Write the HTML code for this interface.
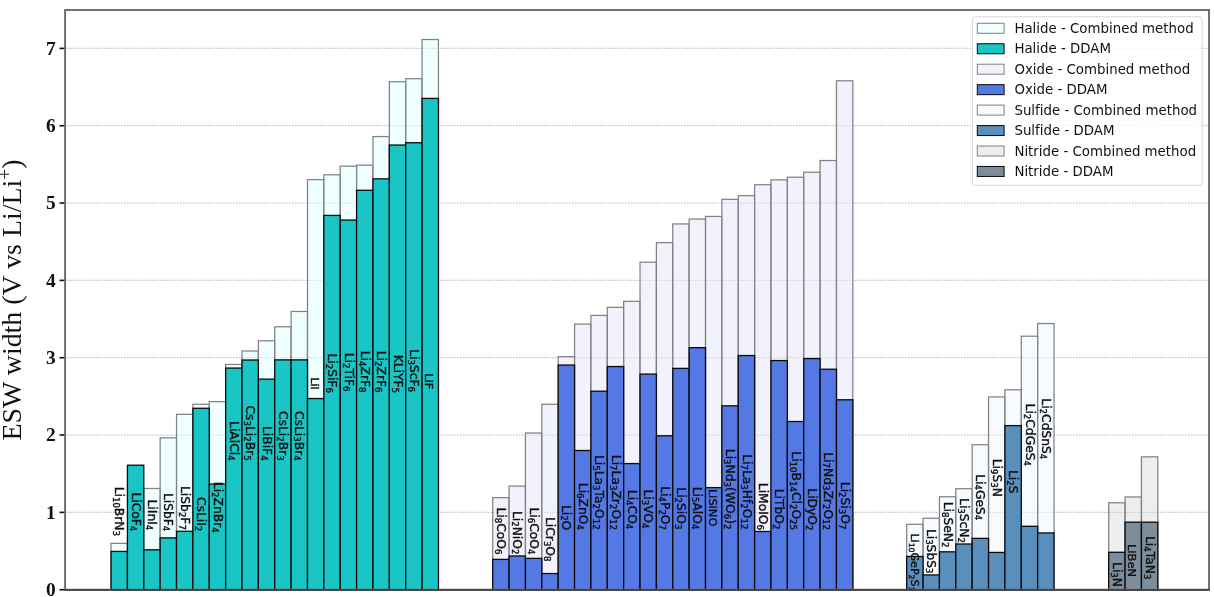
<!DOCTYPE html>
<html><head><meta charset="utf-8"><title>ESW width</title>
<style>
html,body{margin:0;padding:0;background:#fff}
svg{display:block}
text{font-variant-ligatures:none;font-kerning:normal}
.lab{font-family:"DejaVu Sans","Liberation Sans",sans-serif;font-size:12.3px;fill:#111;stroke:#111;stroke-width:0.4px;text-anchor:end}
.leg{font-family:"DejaVu Sans","Liberation Sans",sans-serif;font-size:13.9px;fill:#111}
.tick{font-family:"Liberation Serif","Times New Roman",serif;font-weight:bold;font-size:19.4px;fill:#111;text-anchor:end}
.yl{font-family:"Liberation Serif","Times New Roman",serif;font-size:27.9px;fill:#111;text-anchor:middle}
</style></head><body>
<svg width="1214" height="597" viewBox="0 0 1214 597">
<rect width="1214" height="597" fill="#fff"/>

<g stroke="#c2c2c2" stroke-width="1.3" stroke-dasharray="1.5 1.3" fill="none">
<line x1="65.1" x2="1209.0" y1="512.37" y2="512.37"/>
<line x1="65.1" x2="1209.0" y1="435.04" y2="435.04"/>
<line x1="65.1" x2="1209.0" y1="357.71" y2="357.71"/>
<line x1="65.1" x2="1209.0" y1="280.38" y2="280.38"/>
<line x1="65.1" x2="1209.0" y1="203.05" y2="203.05"/>
<line x1="65.1" x2="1209.0" y1="125.72" y2="125.72"/>
<line x1="65.1" x2="1209.0" y1="48.39" y2="48.39"/>
</g>
<g>
<rect x="111.05" y="543.38" width="16.37" height="46.32" fill="rgba(224,255,255,0.5)" stroke="#828282" stroke-width="1.25"/>
<rect x="143.79" y="488.48" width="16.37" height="101.22" fill="rgba(224,255,255,0.5)" stroke="#828282" stroke-width="1.25"/>
<rect x="160.16" y="437.82" width="16.37" height="151.88" fill="rgba(224,255,255,0.5)" stroke="#828282" stroke-width="1.25"/>
<rect x="176.53" y="414.32" width="16.37" height="175.38" fill="rgba(224,255,255,0.5)" stroke="#828282" stroke-width="1.25"/>
<rect x="192.90" y="404.26" width="16.37" height="185.44" fill="rgba(224,255,255,0.5)" stroke="#828282" stroke-width="1.25"/>
<rect x="209.27" y="401.63" width="16.37" height="188.07" fill="rgba(224,255,255,0.5)" stroke="#828282" stroke-width="1.25"/>
<rect x="225.64" y="364.44" width="16.37" height="225.26" fill="rgba(224,255,255,0.5)" stroke="#828282" stroke-width="1.25"/>
<rect x="242.01" y="350.98" width="16.37" height="238.72" fill="rgba(224,255,255,0.5)" stroke="#828282" stroke-width="1.25"/>
<rect x="258.38" y="340.77" width="16.37" height="248.93" fill="rgba(224,255,255,0.5)" stroke="#828282" stroke-width="1.25"/>
<rect x="274.75" y="326.78" width="16.37" height="262.92" fill="rgba(224,255,255,0.5)" stroke="#828282" stroke-width="1.25"/>
<rect x="291.12" y="311.47" width="16.37" height="278.23" fill="rgba(224,255,255,0.5)" stroke="#828282" stroke-width="1.25"/>
<rect x="307.49" y="179.62" width="16.37" height="410.08" fill="rgba(224,255,255,0.5)" stroke="#828282" stroke-width="1.25"/>
<rect x="323.86" y="174.82" width="16.37" height="414.88" fill="rgba(224,255,255,0.5)" stroke="#828282" stroke-width="1.25"/>
<rect x="340.23" y="166.16" width="16.37" height="423.54" fill="rgba(224,255,255,0.5)" stroke="#828282" stroke-width="1.25"/>
<rect x="356.60" y="165.16" width="16.37" height="424.54" fill="rgba(224,255,255,0.5)" stroke="#828282" stroke-width="1.25"/>
<rect x="372.97" y="136.55" width="16.37" height="453.15" fill="rgba(224,255,255,0.5)" stroke="#828282" stroke-width="1.25"/>
<rect x="389.34" y="81.72" width="16.37" height="507.98" fill="rgba(224,255,255,0.5)" stroke="#828282" stroke-width="1.25"/>
<rect x="405.71" y="78.70" width="16.37" height="511.00" fill="rgba(224,255,255,0.5)" stroke="#828282" stroke-width="1.25"/>
<rect x="422.08" y="39.50" width="16.37" height="550.20" fill="rgba(224,255,255,0.5)" stroke="#828282" stroke-width="1.25"/>
<rect x="111.05" y="551.42" width="16.37" height="38.28" fill="#19c5c5" stroke="#0a0a0a" stroke-width="1.3"/>
<rect x="127.42" y="465.20" width="16.37" height="124.50" fill="#19c5c5" stroke="#0a0a0a" stroke-width="1.3"/>
<rect x="143.79" y="549.80" width="16.37" height="39.90" fill="#19c5c5" stroke="#0a0a0a" stroke-width="1.3"/>
<rect x="160.16" y="537.89" width="16.37" height="51.81" fill="#19c5c5" stroke="#0a0a0a" stroke-width="1.3"/>
<rect x="176.53" y="531.32" width="16.37" height="58.38" fill="#19c5c5" stroke="#0a0a0a" stroke-width="1.3"/>
<rect x="192.90" y="408.28" width="16.37" height="181.42" fill="#19c5c5" stroke="#0a0a0a" stroke-width="1.3"/>
<rect x="209.27" y="484.07" width="16.37" height="105.63" fill="#19c5c5" stroke="#0a0a0a" stroke-width="1.3"/>
<rect x="225.64" y="368.07" width="16.37" height="221.63" fill="#19c5c5" stroke="#0a0a0a" stroke-width="1.3"/>
<rect x="242.01" y="360.03" width="16.37" height="229.67" fill="#19c5c5" stroke="#0a0a0a" stroke-width="1.3"/>
<rect x="258.38" y="379.13" width="16.37" height="210.57" fill="#19c5c5" stroke="#0a0a0a" stroke-width="1.3"/>
<rect x="274.75" y="359.88" width="16.37" height="229.82" fill="#19c5c5" stroke="#0a0a0a" stroke-width="1.3"/>
<rect x="291.12" y="359.88" width="16.37" height="229.82" fill="#19c5c5" stroke="#0a0a0a" stroke-width="1.3"/>
<rect x="307.49" y="398.54" width="16.37" height="191.16" fill="#19c5c5" stroke="#0a0a0a" stroke-width="1.3"/>
<rect x="323.86" y="215.42" width="16.37" height="374.28" fill="#19c5c5" stroke="#0a0a0a" stroke-width="1.3"/>
<rect x="340.23" y="220.06" width="16.37" height="369.64" fill="#19c5c5" stroke="#0a0a0a" stroke-width="1.3"/>
<rect x="356.60" y="190.29" width="16.37" height="399.41" fill="#19c5c5" stroke="#0a0a0a" stroke-width="1.3"/>
<rect x="372.97" y="178.85" width="16.37" height="410.85" fill="#19c5c5" stroke="#0a0a0a" stroke-width="1.3"/>
<rect x="389.34" y="145.05" width="16.37" height="444.65" fill="#19c5c5" stroke="#0a0a0a" stroke-width="1.3"/>
<rect x="405.71" y="142.73" width="16.37" height="446.97" fill="#19c5c5" stroke="#0a0a0a" stroke-width="1.3"/>
<rect x="422.08" y="98.42" width="16.37" height="491.28" fill="#19c5c5" stroke="#0a0a0a" stroke-width="1.3"/>
</g>
<g>
<rect x="492.70" y="497.68" width="16.37" height="92.02" fill="rgba(230,230,250,0.5)" stroke="#828282" stroke-width="1.25"/>
<rect x="509.07" y="486.08" width="16.37" height="103.62" fill="rgba(230,230,250,0.5)" stroke="#828282" stroke-width="1.25"/>
<rect x="525.44" y="433.03" width="16.37" height="156.67" fill="rgba(230,230,250,0.5)" stroke="#828282" stroke-width="1.25"/>
<rect x="541.81" y="404.26" width="16.37" height="185.44" fill="rgba(230,230,250,0.5)" stroke="#828282" stroke-width="1.25"/>
<rect x="558.18" y="356.63" width="16.37" height="233.07" fill="rgba(230,230,250,0.5)" stroke="#828282" stroke-width="1.25"/>
<rect x="574.55" y="324.07" width="16.37" height="265.63" fill="rgba(230,230,250,0.5)" stroke="#828282" stroke-width="1.25"/>
<rect x="590.92" y="315.41" width="16.37" height="274.29" fill="rgba(230,230,250,0.5)" stroke="#828282" stroke-width="1.25"/>
<rect x="607.29" y="307.37" width="16.37" height="282.33" fill="rgba(230,230,250,0.5)" stroke="#828282" stroke-width="1.25"/>
<rect x="623.66" y="301.34" width="16.37" height="288.36" fill="rgba(230,230,250,0.5)" stroke="#828282" stroke-width="1.25"/>
<rect x="640.03" y="262.13" width="16.37" height="327.57" fill="rgba(230,230,250,0.5)" stroke="#828282" stroke-width="1.25"/>
<rect x="656.40" y="242.64" width="16.37" height="347.06" fill="rgba(230,230,250,0.5)" stroke="#828282" stroke-width="1.25"/>
<rect x="672.77" y="223.93" width="16.37" height="365.77" fill="rgba(230,230,250,0.5)" stroke="#828282" stroke-width="1.25"/>
<rect x="689.14" y="219.06" width="16.37" height="370.64" fill="rgba(230,230,250,0.5)" stroke="#828282" stroke-width="1.25"/>
<rect x="705.51" y="216.43" width="16.37" height="373.27" fill="rgba(230,230,250,0.5)" stroke="#828282" stroke-width="1.25"/>
<rect x="721.88" y="199.34" width="16.37" height="390.36" fill="rgba(230,230,250,0.5)" stroke="#828282" stroke-width="1.25"/>
<rect x="738.25" y="195.70" width="16.37" height="394.00" fill="rgba(230,230,250,0.5)" stroke="#828282" stroke-width="1.25"/>
<rect x="754.62" y="184.72" width="16.37" height="404.98" fill="rgba(230,230,250,0.5)" stroke="#828282" stroke-width="1.25"/>
<rect x="770.99" y="179.85" width="16.37" height="409.85" fill="rgba(230,230,250,0.5)" stroke="#828282" stroke-width="1.25"/>
<rect x="787.36" y="177.22" width="16.37" height="412.48" fill="rgba(230,230,250,0.5)" stroke="#828282" stroke-width="1.25"/>
<rect x="803.73" y="172.20" width="16.37" height="417.50" fill="rgba(230,230,250,0.5)" stroke="#828282" stroke-width="1.25"/>
<rect x="820.10" y="160.52" width="16.37" height="429.18" fill="rgba(230,230,250,0.5)" stroke="#828282" stroke-width="1.25"/>
<rect x="836.47" y="80.79" width="16.37" height="508.91" fill="rgba(230,230,250,0.5)" stroke="#828282" stroke-width="1.25"/>
<rect x="492.70" y="559.39" width="16.37" height="30.31" fill="#5478e4" stroke="#0a0a0a" stroke-width="1.3"/>
<rect x="509.07" y="555.98" width="16.37" height="33.72" fill="#5478e4" stroke="#0a0a0a" stroke-width="1.3"/>
<rect x="525.44" y="558.38" width="16.37" height="31.32" fill="#5478e4" stroke="#0a0a0a" stroke-width="1.3"/>
<rect x="541.81" y="573.54" width="16.37" height="16.16" fill="#5478e4" stroke="#0a0a0a" stroke-width="1.3"/>
<rect x="558.18" y="365.06" width="16.37" height="224.64" fill="#5478e4" stroke="#0a0a0a" stroke-width="1.3"/>
<rect x="574.55" y="450.51" width="16.37" height="139.19" fill="#5478e4" stroke="#0a0a0a" stroke-width="1.3"/>
<rect x="590.92" y="391.19" width="16.37" height="198.51" fill="#5478e4" stroke="#0a0a0a" stroke-width="1.3"/>
<rect x="607.29" y="366.53" width="16.37" height="223.17" fill="#5478e4" stroke="#0a0a0a" stroke-width="1.3"/>
<rect x="623.66" y="463.57" width="16.37" height="126.13" fill="#5478e4" stroke="#0a0a0a" stroke-width="1.3"/>
<rect x="640.03" y="374.10" width="16.37" height="215.60" fill="#5478e4" stroke="#0a0a0a" stroke-width="1.3"/>
<rect x="656.40" y="435.81" width="16.37" height="153.89" fill="#5478e4" stroke="#0a0a0a" stroke-width="1.3"/>
<rect x="672.77" y="368.38" width="16.37" height="221.32" fill="#5478e4" stroke="#0a0a0a" stroke-width="1.3"/>
<rect x="689.14" y="347.66" width="16.37" height="242.04" fill="#5478e4" stroke="#0a0a0a" stroke-width="1.3"/>
<rect x="705.51" y="487.62" width="16.37" height="102.08" fill="#5478e4" stroke="#0a0a0a" stroke-width="1.3"/>
<rect x="721.88" y="405.81" width="16.37" height="183.89" fill="#5478e4" stroke="#0a0a0a" stroke-width="1.3"/>
<rect x="738.25" y="355.54" width="16.37" height="234.16" fill="#5478e4" stroke="#0a0a0a" stroke-width="1.3"/>
<rect x="754.62" y="531.47" width="16.37" height="58.23" fill="#5478e4" stroke="#0a0a0a" stroke-width="1.3"/>
<rect x="770.99" y="360.57" width="16.37" height="229.13" fill="#5478e4" stroke="#0a0a0a" stroke-width="1.3"/>
<rect x="787.36" y="421.51" width="16.37" height="168.19" fill="#5478e4" stroke="#0a0a0a" stroke-width="1.3"/>
<rect x="803.73" y="358.56" width="16.37" height="231.14" fill="#5478e4" stroke="#0a0a0a" stroke-width="1.3"/>
<rect x="820.10" y="369.23" width="16.37" height="220.47" fill="#5478e4" stroke="#0a0a0a" stroke-width="1.3"/>
<rect x="836.47" y="399.78" width="16.37" height="189.92" fill="#5478e4" stroke="#0a0a0a" stroke-width="1.3"/>
</g>
<g>
<rect x="906.70" y="524.28" width="16.37" height="65.42" fill="rgba(240,248,255,0.5)" stroke="#828282" stroke-width="1.25"/>
<rect x="923.07" y="518.25" width="16.37" height="71.45" fill="rgba(240,248,255,0.5)" stroke="#828282" stroke-width="1.25"/>
<rect x="939.44" y="496.75" width="16.37" height="92.95" fill="rgba(240,248,255,0.5)" stroke="#828282" stroke-width="1.25"/>
<rect x="955.81" y="488.71" width="16.37" height="100.99" fill="rgba(240,248,255,0.5)" stroke="#828282" stroke-width="1.25"/>
<rect x="972.18" y="444.71" width="16.37" height="144.99" fill="rgba(240,248,255,0.5)" stroke="#828282" stroke-width="1.25"/>
<rect x="988.55" y="396.92" width="16.37" height="192.78" fill="rgba(240,248,255,0.5)" stroke="#828282" stroke-width="1.25"/>
<rect x="1004.92" y="389.80" width="16.37" height="199.90" fill="rgba(240,248,255,0.5)" stroke="#828282" stroke-width="1.25"/>
<rect x="1021.29" y="336.21" width="16.37" height="253.49" fill="rgba(240,248,255,0.5)" stroke="#828282" stroke-width="1.25"/>
<rect x="1037.66" y="323.53" width="16.37" height="266.17" fill="rgba(240,248,255,0.5)" stroke="#828282" stroke-width="1.25"/>
<rect x="906.70" y="556.45" width="16.37" height="33.25" fill="#598fbc" stroke="#0a0a0a" stroke-width="1.3"/>
<rect x="923.07" y="574.93" width="16.37" height="14.77" fill="#598fbc" stroke="#0a0a0a" stroke-width="1.3"/>
<rect x="939.44" y="551.81" width="16.37" height="37.89" fill="#598fbc" stroke="#0a0a0a" stroke-width="1.3"/>
<rect x="955.81" y="544.00" width="16.37" height="45.70" fill="#598fbc" stroke="#0a0a0a" stroke-width="1.3"/>
<rect x="972.18" y="538.35" width="16.37" height="51.35" fill="#598fbc" stroke="#0a0a0a" stroke-width="1.3"/>
<rect x="988.55" y="552.43" width="16.37" height="37.27" fill="#598fbc" stroke="#0a0a0a" stroke-width="1.3"/>
<rect x="1004.92" y="425.61" width="16.37" height="164.09" fill="#598fbc" stroke="#0a0a0a" stroke-width="1.3"/>
<rect x="1021.29" y="526.29" width="16.37" height="63.41" fill="#598fbc" stroke="#0a0a0a" stroke-width="1.3"/>
<rect x="1037.66" y="532.94" width="16.37" height="56.76" fill="#598fbc" stroke="#0a0a0a" stroke-width="1.3"/>
</g>
<g>
<rect x="1108.70" y="502.78" width="16.37" height="86.92" fill="rgba(211,211,211,0.38)" stroke="#828282" stroke-width="1.25"/>
<rect x="1125.07" y="496.98" width="16.37" height="92.72" fill="rgba(211,211,211,0.38)" stroke="#828282" stroke-width="1.25"/>
<rect x="1141.44" y="456.85" width="16.37" height="132.85" fill="rgba(211,211,211,0.38)" stroke="#828282" stroke-width="1.25"/>
<rect x="1108.70" y="552.27" width="16.37" height="37.43" fill="#7e8d9b" stroke="#0a0a0a" stroke-width="1.3"/>
<rect x="1125.07" y="522.19" width="16.37" height="67.51" fill="#7e8d9b" stroke="#0a0a0a" stroke-width="1.3"/>
<rect x="1141.44" y="522.19" width="16.37" height="67.51" fill="#7e8d9b" stroke="#0a0a0a" stroke-width="1.3"/>
</g>
<clipPath id="ax"><rect x="65.1" y="10.0" width="1143.90" height="579.70"/></clipPath>
<g class="lab" clip-path="url(#ax)">
<text transform="translate(115.33,536.0) rotate(90) scale(1,0.96)">Li<tspan font-size="8.61" dy="1.9">10</tspan><tspan dy="-1.9">BrN</tspan><tspan font-size="8.61" dy="1.9">3</tspan></text>
<text transform="translate(131.70,531.3) rotate(90) scale(1,0.96)">LiCoF<tspan font-size="8.61" dy="1.9">4</tspan></text>
<text transform="translate(148.07,530.3) rotate(90) scale(1,0.96)">LiInI<tspan font-size="8.61" dy="1.9">4</tspan></text>
<text transform="translate(164.44,531.3) rotate(90) scale(1,0.96)">LiSbF<tspan font-size="8.61" dy="1.9">4</tspan></text>
<text transform="translate(180.81,529.9) rotate(90) scale(1,0.96)">LiSb<tspan font-size="8.61" dy="1.9">2</tspan><tspan dy="-1.9">F</tspan><tspan font-size="8.61" dy="1.9">7</tspan></text>
<text transform="translate(197.19,531.3) rotate(90) scale(1,0.96)">CsLiI<tspan font-size="8.61" dy="1.9">2</tspan></text>
<text transform="translate(213.55,532.7) rotate(90) scale(1,0.96)">Li<tspan font-size="8.61" dy="1.9">2</tspan><tspan dy="-1.9">ZnBr</tspan><tspan font-size="8.61" dy="1.9">4</tspan></text>
<text transform="translate(229.92,460.6) rotate(90) scale(1,0.96)">LiAlCl<tspan font-size="8.61" dy="1.9">4</tspan></text>
<text transform="translate(246.29,460.6) rotate(90) scale(1,0.96)">Cs<tspan font-size="8.61" dy="1.9">3</tspan><tspan dy="-1.9">Li</tspan><tspan font-size="8.61" dy="1.9">2</tspan><tspan dy="-1.9">Br</tspan><tspan font-size="8.61" dy="1.9">5</tspan></text>
<text transform="translate(262.67,460.6) rotate(90) scale(1,0.96)">LiBiF<tspan font-size="8.61" dy="1.9">4</tspan></text>
<text transform="translate(279.04,460.6) rotate(90) scale(1,0.96)">CsLi<tspan font-size="8.61" dy="1.9">2</tspan><tspan dy="-1.9">Br</tspan><tspan font-size="8.61" dy="1.9">3</tspan></text>
<text transform="translate(295.41,460.6) rotate(90) scale(1,0.96)">CsLi<tspan font-size="8.61" dy="1.9">3</tspan><tspan dy="-1.9">Br</tspan><tspan font-size="8.61" dy="1.9">4</tspan></text>
<text font-size="10.82" transform="translate(310.88,389.8) rotate(90) scale(1,0.96)">LiI</text>
<text transform="translate(328.15,392.9) rotate(90) scale(1,0.96)">Li<tspan font-size="8.61" dy="1.9">2</tspan><tspan dy="-1.9">SiF</tspan><tspan font-size="8.61" dy="1.9">6</tspan></text>
<text transform="translate(344.52,391.5) rotate(90) scale(1,0.96)">Li<tspan font-size="8.61" dy="1.9">2</tspan><tspan dy="-1.9">TiF</tspan><tspan font-size="8.61" dy="1.9">6</tspan></text>
<text transform="translate(360.89,392.5) rotate(90) scale(1,0.96)">Li<tspan font-size="8.61" dy="1.9">4</tspan><tspan dy="-1.9">ZrF</tspan><tspan font-size="8.61" dy="1.9">8</tspan></text>
<text transform="translate(377.26,392.5) rotate(90) scale(1,0.96)">Li<tspan font-size="8.61" dy="1.9">2</tspan><tspan dy="-1.9">ZrF</tspan><tspan font-size="8.61" dy="1.9">6</tspan></text>
<text transform="translate(393.63,393.0) rotate(90) scale(1,0.96)">KLiYF<tspan font-size="8.61" dy="1.9">5</tspan></text>
<text transform="translate(410.00,392.0) rotate(90) scale(1,0.96)">Li<tspan font-size="8.61" dy="1.9">3</tspan><tspan dy="-1.9">ScF</tspan><tspan font-size="8.61" dy="1.9">6</tspan></text>
<text font-size="11.44" transform="translate(425.47,389.4) rotate(90) scale(1,0.96)">LiF</text>
<text transform="translate(496.99,554.4) rotate(90) scale(1,0.96)">Li<tspan font-size="8.61" dy="1.9">8</tspan><tspan dy="-1.9">CoO</tspan><tspan font-size="8.61" dy="1.9">6</tspan></text>
<text transform="translate(513.36,554.4) rotate(90) scale(1,0.96)">Li<tspan font-size="8.61" dy="1.9">2</tspan><tspan dy="-1.9">NiO</tspan><tspan font-size="8.61" dy="1.9">2</tspan></text>
<text transform="translate(529.72,554.4) rotate(90) scale(1,0.96)">Li<tspan font-size="8.61" dy="1.9">6</tspan><tspan dy="-1.9">CoO</tspan><tspan font-size="8.61" dy="1.9">4</tspan></text>
<text transform="translate(546.09,561.5) rotate(90) scale(1,0.96)">LiCr<tspan font-size="8.61" dy="1.9">3</tspan><tspan dy="-1.9">O</tspan><tspan font-size="8.61" dy="1.9">8</tspan></text>
<text transform="translate(562.46,530.3) rotate(90) scale(1,0.96)">Li<tspan font-size="8.61" dy="1.9">2</tspan><tspan dy="-1.9">O</tspan></text>
<text transform="translate(578.83,529.9) rotate(90) scale(1,0.96)">Li<tspan font-size="8.61" dy="1.9">6</tspan><tspan dy="-1.9">ZnO</tspan><tspan font-size="8.61" dy="1.9">4</tspan></text>
<text transform="translate(595.20,529.6) rotate(90) scale(1,0.96)">Li<tspan font-size="8.61" dy="1.9">5</tspan><tspan dy="-1.9">La</tspan><tspan font-size="8.61" dy="1.9">3</tspan><tspan dy="-1.9">Ta</tspan><tspan font-size="8.61" dy="1.9">2</tspan><tspan dy="-1.9">O</tspan><tspan font-size="8.61" dy="1.9">12</tspan></text>
<text transform="translate(611.57,530.0) rotate(90) scale(1,0.96)">Li<tspan font-size="8.61" dy="1.9">7</tspan><tspan dy="-1.9">La</tspan><tspan font-size="8.61" dy="1.9">3</tspan><tspan dy="-1.9">Zr</tspan><tspan font-size="8.61" dy="1.9">2</tspan><tspan dy="-1.9">O</tspan><tspan font-size="8.61" dy="1.9">12</tspan></text>
<text transform="translate(627.94,529.3) rotate(90) scale(1,0.96)">Li<tspan font-size="8.61" dy="1.9">4</tspan><tspan dy="-1.9">CO</tspan><tspan font-size="8.61" dy="1.9">4</tspan></text>
<text transform="translate(644.31,528.5) rotate(90) scale(1,0.96)">Li<tspan font-size="8.61" dy="1.9">3</tspan><tspan dy="-1.9">VO</tspan><tspan font-size="8.61" dy="1.9">4</tspan></text>
<text transform="translate(660.68,530.0) rotate(90) scale(1,0.96)">Li<tspan font-size="8.61" dy="1.9">4</tspan><tspan dy="-1.9">P</tspan><tspan font-size="8.61" dy="1.9">2</tspan><tspan dy="-1.9">O</tspan><tspan font-size="8.61" dy="1.9">7</tspan></text>
<text transform="translate(677.05,529.4) rotate(90) scale(1,0.96)">Li<tspan font-size="8.61" dy="1.9">2</tspan><tspan dy="-1.9">SiO</tspan><tspan font-size="8.61" dy="1.9">3</tspan></text>
<text transform="translate(693.42,529.4) rotate(90) scale(1,0.96)">Li<tspan font-size="8.61" dy="1.9">5</tspan><tspan dy="-1.9">AlO</tspan><tspan font-size="8.61" dy="1.9">4</tspan></text>
<text font-size="11.44" transform="translate(708.89,526.4) rotate(90) scale(1,0.96)">LiSiNO</text>
<text transform="translate(726.16,529.4) rotate(90) scale(1,0.96)">Li<tspan font-size="8.61" dy="1.9">3</tspan><tspan dy="-1.9">Nd</tspan><tspan font-size="8.61" dy="1.9">3</tspan><tspan dy="-1.9">(WO</tspan><tspan font-size="8.61" dy="1.9">6</tspan><tspan dy="-1.9">)</tspan><tspan font-size="8.61" dy="1.9">2</tspan></text>
<text transform="translate(742.53,529.4) rotate(90) scale(1,0.96)">Li<tspan font-size="8.61" dy="1.9">7</tspan><tspan dy="-1.9">La</tspan><tspan font-size="8.61" dy="1.9">3</tspan><tspan dy="-1.9">Hf</tspan><tspan font-size="8.61" dy="1.9">2</tspan><tspan dy="-1.9">O</tspan><tspan font-size="8.61" dy="1.9">12</tspan></text>
<text transform="translate(758.90,530.0) rotate(90) scale(1,0.96)">LiMoIO<tspan font-size="8.61" dy="1.9">6</tspan></text>
<text transform="translate(775.27,529.4) rotate(90) scale(1,0.96)">LiTbO<tspan font-size="8.61" dy="1.9">2</tspan></text>
<text transform="translate(791.64,530.0) rotate(90) scale(1,0.96)">Li<tspan font-size="8.61" dy="1.9">10</tspan><tspan dy="-1.9">B</tspan><tspan font-size="8.61" dy="1.9">14</tspan><tspan dy="-1.9">Cl</tspan><tspan font-size="8.61" dy="1.9">2</tspan><tspan dy="-1.9">O</tspan><tspan font-size="8.61" dy="1.9">25</tspan></text>
<text transform="translate(808.01,530.5) rotate(90) scale(1,0.96)">LiDyO<tspan font-size="8.61" dy="1.9">2</tspan></text>
<text transform="translate(824.38,530.0) rotate(90) scale(1,0.96)">Li<tspan font-size="8.61" dy="1.9">7</tspan><tspan dy="-1.9">Nd</tspan><tspan font-size="8.61" dy="1.9">3</tspan><tspan dy="-1.9">Zr</tspan><tspan font-size="8.61" dy="1.9">2</tspan><tspan dy="-1.9">O</tspan><tspan font-size="8.61" dy="1.9">12</tspan></text>
<text transform="translate(840.75,529.4) rotate(90) scale(1,0.96)">Li<tspan font-size="8.61" dy="1.9">2</tspan><tspan dy="-1.9">Si</tspan><tspan font-size="8.61" dy="1.9">3</tspan><tspan dy="-1.9">O</tspan><tspan font-size="8.61" dy="1.9">7</tspan></text>
<text font-size="11.07" transform="translate(910.99,596.4) rotate(90) scale(1,0.96)">Li<tspan font-size="7.75" dy="1.9">10</tspan><tspan dy="-1.9">GeP</tspan><tspan font-size="7.75" dy="1.9">2</tspan><tspan dy="-1.9">S</tspan><tspan font-size="7.75" dy="1.9">12</tspan></text>
<text transform="translate(927.36,573.5) rotate(90) scale(1,0.96)">Li<tspan font-size="8.61" dy="1.9">3</tspan><tspan dy="-1.9">SbS</tspan><tspan font-size="8.61" dy="1.9">3</tspan></text>
<text transform="translate(943.73,547.5) rotate(90) scale(1,0.96)">Li<tspan font-size="8.61" dy="1.9">8</tspan><tspan dy="-1.9">SeN</tspan><tspan font-size="8.61" dy="1.9">2</tspan></text>
<text transform="translate(960.10,543.0) rotate(90) scale(1,0.96)">Li<tspan font-size="8.61" dy="1.9">3</tspan><tspan dy="-1.9">ScN</tspan><tspan font-size="8.61" dy="1.9">2</tspan></text>
<text transform="translate(976.47,520.3) rotate(90) scale(1,0.96)">Li<tspan font-size="8.61" dy="1.9">4</tspan><tspan dy="-1.9">GeS</tspan><tspan font-size="8.61" dy="1.9">4</tspan></text>
<text transform="translate(992.84,496.9) rotate(90) scale(1,0.96)">Li<tspan font-size="8.61" dy="1.9">9</tspan><tspan dy="-1.9">S</tspan><tspan font-size="8.61" dy="1.9">3</tspan><tspan dy="-1.9">N</tspan></text>
<text transform="translate(1009.21,493.5) rotate(90) scale(1,0.96)">Li<tspan font-size="8.61" dy="1.9">2</tspan><tspan dy="-1.9">S</tspan></text>
<text transform="translate(1025.58,466.0) rotate(90) scale(1,0.96)">Li<tspan font-size="8.61" dy="1.9">2</tspan><tspan dy="-1.9">CdGeS</tspan><tspan font-size="8.61" dy="1.9">4</tspan></text>
<text transform="translate(1041.94,459.3) rotate(90) scale(1,0.96)">Li<tspan font-size="8.61" dy="1.9">2</tspan><tspan dy="-1.9">CdSnS</tspan><tspan font-size="8.61" dy="1.9">4</tspan></text>
<text transform="translate(1112.98,587.0) rotate(90) scale(1,0.96)">Li<tspan font-size="8.61" dy="1.9">3</tspan><tspan dy="-1.9">N</tspan></text>
<text font-size="11.44" transform="translate(1128.45,577.0) rotate(90) scale(1,0.96)">LiBeN</text>
<text transform="translate(1145.72,579.4) rotate(90) scale(1,0.96)">Li<tspan font-size="8.61" dy="1.9">4</tspan><tspan dy="-1.9">TaN</tspan><tspan font-size="8.61" dy="1.9">3</tspan></text>
</g>
<rect x="65.1" y="10.0" width="1143.90" height="579.70" fill="none" stroke="#6a6a6a" stroke-width="1.9"/>
<line x1="64.19999999999999" x2="1209.9" y1="590" y2="590" stroke="#383838" stroke-width="1.7"/>
<g stroke="#111" stroke-width="1.6">
<line x1="59.49999999999999" x2="64.3" y1="589.70" y2="589.70"/>
<line x1="59.49999999999999" x2="64.3" y1="512.37" y2="512.37"/>
<line x1="59.49999999999999" x2="64.3" y1="435.04" y2="435.04"/>
<line x1="59.49999999999999" x2="64.3" y1="357.71" y2="357.71"/>
<line x1="59.49999999999999" x2="64.3" y1="280.38" y2="280.38"/>
<line x1="59.49999999999999" x2="64.3" y1="203.05" y2="203.05"/>
<line x1="59.49999999999999" x2="64.3" y1="125.72" y2="125.72"/>
<line x1="59.49999999999999" x2="64.3" y1="48.39" y2="48.39"/>
</g>
<text class="tick" x="55.6" y="596.10">0</text>
<text class="tick" x="55.6" y="518.77">1</text>
<text class="tick" x="55.6" y="441.44">2</text>
<text class="tick" x="55.6" y="364.11">3</text>
<text class="tick" x="55.6" y="286.78">4</text>
<text class="tick" x="55.6" y="209.45">5</text>
<text class="tick" x="55.6" y="132.12">6</text>
<text class="tick" x="55.6" y="54.79">7</text>
<text class="yl" transform="translate(20.8,300) rotate(-90) scale(1,0.96)">ESW width (V vs Li/Li<tspan font-size="19.6" dy="-10">+</tspan><tspan dy="10">)</tspan></text>
<rect x="972.4" y="16.8" width="229.6" height="168.5" rx="3" ry="2.7" fill="#fff" fill-opacity="0.8" stroke="#d6d6d6" stroke-width="1"/>
<rect x="977.3" y="23.30" width="26.8" height="10" fill="rgba(224,255,255,0.5)" stroke="#808080" stroke-width="1"/>
<text class="leg" transform="translate(1014.4,32.90) scale(0.961,1)">Halide - Combined method</text>
<rect x="977.3" y="43.75" width="26.8" height="10" fill="#19c5c5" stroke="#0a0a0a" stroke-width="1"/>
<text class="leg" transform="translate(1014.4,53.35) scale(0.961,1)">Halide - DDAM</text>
<rect x="977.3" y="64.20" width="26.8" height="10" fill="rgba(230,230,250,0.5)" stroke="#808080" stroke-width="1"/>
<text class="leg" transform="translate(1014.4,73.80) scale(0.961,1)">Oxide - Combined method</text>
<rect x="977.3" y="84.65" width="26.8" height="10" fill="#5478e4" stroke="#0a0a0a" stroke-width="1"/>
<text class="leg" transform="translate(1014.4,94.25) scale(0.961,1)">Oxide - DDAM</text>
<rect x="977.3" y="105.10" width="26.8" height="10" fill="rgba(240,248,255,0.5)" stroke="#808080" stroke-width="1"/>
<text class="leg" transform="translate(1014.4,114.70) scale(0.961,1)">Sulfide - Combined method</text>
<rect x="977.3" y="125.55" width="26.8" height="10" fill="#598fbc" stroke="#0a0a0a" stroke-width="1"/>
<text class="leg" transform="translate(1014.4,135.15) scale(0.961,1)">Sulfide - DDAM</text>
<rect x="977.3" y="146.00" width="26.8" height="10" fill="rgba(211,211,211,0.38)" stroke="#808080" stroke-width="1"/>
<text class="leg" transform="translate(1014.4,155.60) scale(0.961,1)">Nitride - Combined method</text>
<rect x="977.3" y="166.45" width="26.8" height="10" fill="#7e8d9b" stroke="#0a0a0a" stroke-width="1"/>
<text class="leg" transform="translate(1014.4,176.05) scale(0.961,1)">Nitride - DDAM</text>
</svg></body></html>
